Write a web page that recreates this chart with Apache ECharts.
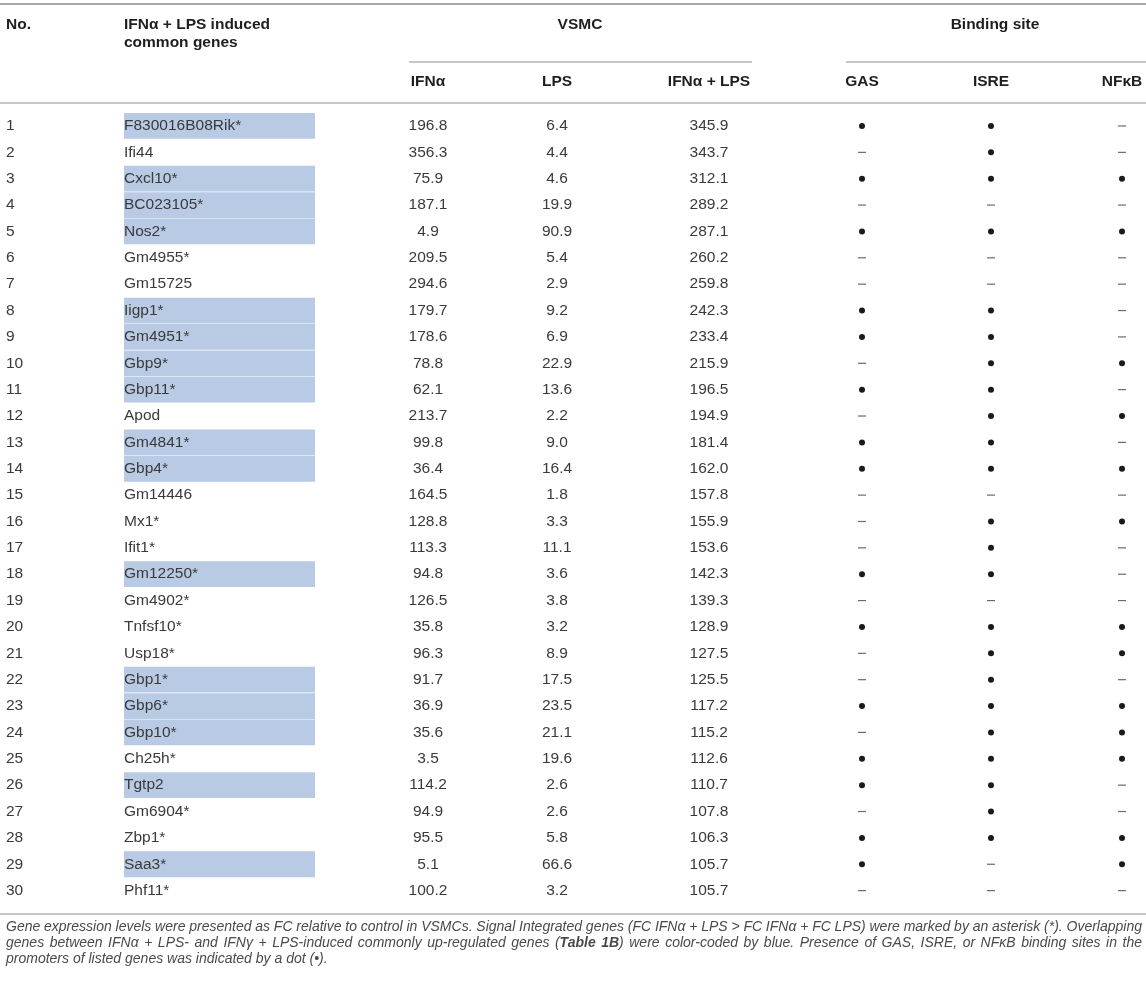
<!DOCTYPE html>
<html>
<head>
<meta charset="utf-8">
<title>VSMC IFNα + LPS induced common genes</title>
<script src="https://cdn.jsdelivr.net/npm/echarts@6/dist/echarts.min.js"></script>
<style>
  html, body { margin: 0; padding: 0; background: #fff; }
  #main { width: 1146px; height: 982px; }
</style>
</head>
<body>
<div id="main"></div>
<script>
// table data
var rowNo = [1, 2, 3, 4, 5, 6, 7, 8, 9, 10, 11, 12, 13, 14, 15, 16, 17, 18, 19, 20, 21, 22, 23, 24, 25, 26, 27, 28, 29, 30];
var genes = ['F830016B08Rik*', 'Ifi44', 'Cxcl10*', 'BC023105*', 'Nos2*', 'Gm4955*', 'Gm15725', 'Iigp1*', 'Gm4951*', 'Gbp9*',
    'Gbp11*', 'Apod', 'Gm4841*', 'Gbp4*', 'Gm14446', 'Mx1*', 'Ifit1*', 'Gm12250*', 'Gm4902*', 'Tnfsf10*',
    'Usp18*', 'Gbp1*', 'Gbp6*', 'Gbp10*', 'Ch25h*', 'Tgtp2', 'Gm6904*', 'Zbp1*', 'Saa3*', 'Phf11*'];
var fcIfn = [196.8, 356.3, 75.9, 187.1, 4.9, 209.5, 294.6, 179.7, 178.6, 78.8, 62.1, 213.7, 99.8, 36.4, 164.5,
    128.8, 113.3, 94.8, 126.5, 35.8, 96.3, 91.7, 36.9, 35.6, 3.5, 114.2, 94.9, 95.5, 5.1, 100.2];
var fcLps = [6.4, 4.4, 4.6, 19.9, 90.9, 5.4, 2.9, 9.2, 6.9, 22.9, 13.6, 2.2, 9.0, 16.4, 1.8,
    3.3, 11.1, 3.6, 3.8, 3.2, 8.9, 17.5, 23.5, 21.1, 19.6, 2.6, 2.6, 5.8, 66.6, 3.2];
var fcIfnLps = [345.9, 343.7, 312.1, 289.2, 287.1, 260.2, 259.8, 242.3, 233.4, 215.9, 196.5, 194.9, 181.4, 162.0, 157.8,
    155.9, 153.6, 142.3, 139.3, 128.9, 127.5, 125.5, 117.2, 115.2, 112.6, 110.7, 107.8, 106.3, 105.7, 105.7];
// 1 = binding site present (dot), 0 = absent (dash)
var siteGAS  = [1, 0, 1, 0, 1, 0, 0, 1, 1, 0, 1, 0, 1, 1, 0, 0, 0, 1, 0, 1, 0, 0, 1, 0, 1, 1, 0, 1, 1, 0];
var siteISRE = [1, 1, 1, 0, 1, 0, 0, 1, 1, 1, 1, 1, 1, 1, 0, 1, 1, 1, 0, 1, 1, 1, 1, 1, 1, 1, 1, 1, 0, 0];
var siteNFkB = [0, 0, 1, 0, 1, 0, 0, 0, 0, 1, 0, 1, 0, 1, 0, 1, 0, 0, 0, 1, 1, 0, 1, 1, 1, 0, 0, 1, 1, 0];
// overlap with IFNγ + LPS genes (blue)
var overlap  = [1, 0, 1, 1, 1, 0, 0, 1, 1, 1, 1, 0, 1, 1, 0, 0, 0, 1, 0, 0, 0, 1, 1, 1, 0, 1, 0, 0, 1, 0];

// caption lines, {b|...} marks the bold words
var captionLines = [
    'Gene expression levels were presented as FC relative to control in VSMCs. Signal Integrated genes (FC IFNα + LPS > FC IFNα + FC LPS) were marked by an asterisk (*). Overlapping',
    'genes between IFNα + LPS- and IFNγ + LPS-induced commonly up-regulated genes ({b|Table} {b|1B}) were color-coded by blue. Presence of GAS, ISRE, or NFκB binding sites in the',
    'promoters of listed genes was indicated by a dot (•).'
];

// layout (pixels along the hidden x axis)
var colX = { no: 6, gene: 124, geneEnd: 315, ifn: 428, lps: 557, both: 709, gas: 862, isre: 991, nfkb: 1122 };
var FONT = '"Liberation Sans", Arial, Helvetica, sans-serif';
var textColor = '#3a3a3a';
var headColor = '#1e1e1e';
var lineColor = '#b4b4b4';

var chart = echarts.init(document.getElementById('main'), null, { renderer: 'canvas' });

function txt(x, y, s, align, bold) {
    return {
        type: 'text',
        x: x, y: y,
        style: {
            text: s, x: 0, y: 0,
            align: align || 'left', verticalAlign: 'middle',
            font: (bold ? 'bold ' : '') + '15.5px ' + FONT,
            fill: bold ? headColor : textColor
        }
    };
}

function siteMark(present, x, y) {
    if (present) {
        return { type: 'circle', shape: { cx: x, cy: y, r: 3 }, style: { fill: '#1a1a1a' } };
    }
    return { type: 'line', shape: { x1: x - 4, y1: y, x2: x + 4, y2: y }, style: { stroke: '#6a6a6a', lineWidth: 1.2 } };
}

function renderRow(params, api) {
    var i = params.dataIndex;
    var row = api.value(1);
    var y = api.coord([0, row])[1];
    var band = api.size([0, 1])[1];
    var X = function (v) { return api.coord([v, row])[0]; };
    var kids = [];
    if (overlap[i]) {
        kids.push({
            type: 'rect',
            shape: { x: X(colX.gene), y: y - band / 2 + 0.3, width: X(colX.geneEnd) - X(colX.gene), height: band - 0.6 },
            style: { fill: '#b9cae4' }
        });
    }
    kids.push(txt(X(colX.no), y, String(rowNo[i]), 'left'));
    kids.push(txt(X(colX.gene), y, genes[i], 'left'));
    kids.push(txt(X(colX.ifn), y, fcIfn[i].toFixed(1), 'center'));
    kids.push(txt(X(colX.lps), y, fcLps[i].toFixed(1), 'center'));
    kids.push(txt(X(colX.both), y, fcIfnLps[i].toFixed(1), 'center'));
    kids.push(siteMark(siteGAS[i], X(colX.gas), y));
    kids.push(siteMark(siteISRE[i], X(colX.isre), y));
    kids.push(siteMark(siteNFkB[i], X(colX.nfkb), y));
    return { type: 'group', children: kids };
}

function hLine(x1, x2, y, w, c) {
    return { type: 'line', shape: { x1: x1, y1: y, x2: x2, y2: y }, style: { stroke: c || lineColor, lineWidth: w || 1.5 } };
}

function headText(x, y, s, align) {
    return {
        type: 'text', x: x, y: y,
        style: { text: s, align: align, verticalAlign: 'middle', font: 'bold 15.5px ' + FONT, fill: headColor }
    };
}

// caption: justified lines, one text element per word
var capSize = 14;
var capFont = 'italic ' + capSize + 'px ' + FONT;
var capBold = 'italic bold ' + capSize + 'px ' + FONT;
var capColor = '#4a4a4a';
var measureCtx = document.createElement('canvas').getContext('2d');

function wordWidth(w) {
    var parts = w.split(/(\{b\|[^}]*\})/);
    var sum = 0;
    parts.forEach(function (p) {
        if (!p) return;
        var m = p.match(/^\{b\|([^}]*)\}$/);
        measureCtx.font = m ? capBold : capFont;
        sum += measureCtx.measureText(m ? m[1] : p).width;
    });
    return sum;
}

function captionElems(line, y, x0, x1, justify) {
    var words = line.split(' ');
    var widths = words.map(wordWidth);
    var total = widths.reduce(function (a, b) { return a + b; }, 0);
    measureCtx.font = capFont;
    var gap = justify ? (x1 - x0 - total) / (words.length - 1) : measureCtx.measureText(' ').width;
    var x = x0;
    return words.map(function (w, k) {
        var el = {
            type: 'text', x: x, y: y,
            style: {
                text: w, verticalAlign: 'middle', font: capFont, fill: capColor,
                rich: { b: { font: capBold, fill: capColor } }
            }
        };
        x += widths[k] + gap;
        return el;
    });
}

var graphics = [
    hLine(0, 1146, 4, 2, '#a8a8a8'),
    hLine(409, 752, 62),
    hLine(846, 1146, 62),
    hLine(0, 1146, 103),
    hLine(0, 1146, 914),
    headText(6, 25, 'No.', 'left'),
    headText(124, 25, 'IFNα + LPS induced', 'left'),
    headText(124, 43, 'common genes', 'left'),
    headText(580, 25, 'VSMC', 'center'),
    headText(995, 25, 'Binding site', 'center'),
    headText(colX.ifn, 82, 'IFNα', 'center'),
    headText(colX.lps, 82, 'LPS', 'center'),
    headText(colX.both, 82, 'IFNα + LPS', 'center'),
    headText(colX.gas, 82, 'GAS', 'center'),
    headText(colX.isre, 82, 'ISRE', 'center'),
    headText(colX.nfkb, 82, 'NFκB', 'center')
];
captionLines.forEach(function (line, k) {
    graphics = graphics.concat(captionElems(line, 927 + k * 16, 6, 1142, k < captionLines.length - 1));
});

var option = {
    animation: false,
    backgroundColor: '#fff',
    grid: { left: 0, right: 0, top: 112.8, height: 791 },
    xAxis: { type: 'value', min: 0, max: 1146, show: false },
    yAxis: { type: 'category', data: rowNo, inverse: true, show: false },
    series: [{
        type: 'custom',
        renderItem: renderRow,
        encode: { x: 0, y: 1 },
        data: rowNo.map(function (n, i) { return [0, i]; })
    }],
    graphic: graphics
};

chart.setOption(option);
</script>
</body>
</html>
